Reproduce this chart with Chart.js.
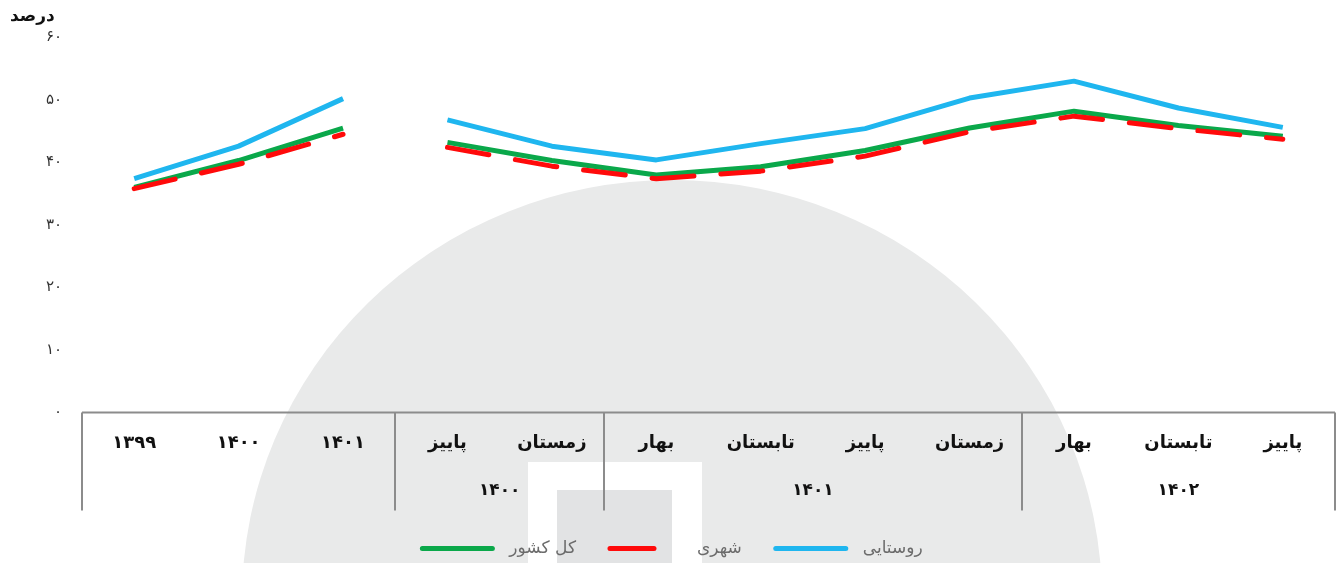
<!DOCTYPE html>
<html>
<head>
<meta charset="utf-8">
<script src="https://cdn.jsdelivr.net/npm/chart.js@4"></script>
<style>
  html, body { margin: 0; padding: 0; background: #fff; overflow: hidden; }
  #wrap { position: relative; width: 1341px; height: 563px; overflow: hidden; }
  /* watermark logo behind the chart */
  .wm { position: absolute; }
  #wm-arc { left: 242px; top: 180px; width: 860px; height: 840px; border-radius: 50%; background: #e9eaea; }
  #wm-box { left: 528px; top: 462px; width: 174px; height: 110px; background: #fff; }
  #wm-core { left: 557px; top: 490px; width: 115px; height: 80px; background: #e2e3e4; }
  canvas { position: absolute; left: 0; top: 4px; }
</style>
</head>
<body>
<div id="wrap">
  <div class="wm" id="wm-arc"></div>
  <div class="wm" id="wm-box"></div>
  <div class="wm" id="wm-core"></div>
  <canvas id="povertyChart" width="1341" height="563"></canvas>
</div>
<script>
const categories = ['۱۳۹۹', '۱۴۰۰', '۱۴۰۱', 'پاییز', 'زمستان', 'بهار', 'تابستان', 'پاییز', 'زمستان', 'بهار', 'تابستان', 'پاییز'];
const groupLabels = ['', '۱۴۰۰', '۱۴۰۱', '۱۴۰۲'];
const groupStarts = [0, 3, 5, 9];
const breakAfter = 2; // annual points are not joined to the seasonal ones

const ruralValues = [37.4, 42.6, 50.2, 46.8, 42.6, 40.4, 43.0, 45.4, 50.3, 53.0, 48.7, 45.6];
const urbanValues = [35.8, 39.7, 44.5, 42.4, 39.4, 37.4, 38.6, 41.0, 44.9, 47.4, 45.4, 43.7];
const totalValues = [36.0, 40.3, 45.5, 43.2, 40.3, 38.0, 39.3, 41.9, 45.5, 48.2, 45.9, 44.2];

const yTickLabels = ['۰', '۱۰', '۲۰', '۳۰', '۴۰', '۵۰', '۶۰'];
const seriesNames = ['روستایی', 'شهری', 'کل کشور'];

const FONT = "'DejaVu Sans', sans-serif";

const gapSegment = {
    borderColor: ctx => ctx.p0DataIndex === breakAfter ? 'rgba(0,0,0,0)' : undefined
};

// boxes under the x axis with the year of each group
const groupAxis = {
    id: 'groupAxis',
    afterDraw(chart) {
        const ctx = chart.ctx;
        const x = chart.scales.x;
        const top = chart.chartArea.bottom;
        const bottom = top + 98;
        ctx.save();
        ctx.strokeStyle = '#8c8c8c';
        ctx.lineWidth = 2;
        ctx.beginPath();
        ctx.moveTo(x.left, top);
        ctx.lineTo(x.right, top);
        const edges = groupStarts.concat([categories.length]);
        edges.forEach(e => {
            const px = Math.round(x.getPixelForValue(e - 0.5));
            ctx.moveTo(px, top);
            ctx.lineTo(px, bottom);
        });
        ctx.stroke();
        ctx.fillStyle = '#111';
        ctx.font = 'bold 17px ' + FONT;
        ctx.textAlign = 'center';
        ctx.textBaseline = 'middle';
        groupLabels.forEach((g, i) => {
            if (!g) return;
            const a = x.getPixelForValue(edges[i] - 0.5);
            const b = x.getPixelForValue(edges[i + 1] - 0.5);
            ctx.fillText(g, (a + b) / 2, top + 78);
        });
        ctx.restore();
    }
};

const ctx = document.getElementById('povertyChart').getContext('2d');
new Chart(ctx, {
    type: 'line',
    data: {
        labels: categories,
        datasets: [
            {
                label: seriesNames[0],
                data: ruralValues,
                borderColor: '#1fb6ef',
                borderWidth: 5,
                segment: gapSegment
            },
            {
                label: seriesNames[1],
                data: urbanValues,
                borderColor: '#ff0a0a',
                borderWidth: 5,
                borderDash: [42, 27],
                borderCapStyle: 'round',
                segment: gapSegment
            },
            {
                label: seriesNames[2],
                data: totalValues,
                borderColor: '#0aa84a',
                borderWidth: 5,
                segment: gapSegment
            }
        ]
    },
    options: {
        responsive: false,
        animation: false,
        layout: { padding: { left: 10, right: 6, top: 0, bottom: 0 } },
        elements: {
            point: { radius: 0, hoverRadius: 0 },
            line: { tension: 0, borderJoinStyle: 'round' }
        },
        scales: {
            x: {
                offset: true,
                grid: { display: false, drawTicks: false },
                border: { display: false },
                ticks: {
                    autoSkip: false,
                    maxRotation: 0,
                    padding: 20,
                    color: '#111',
                    font: { family: FONT, size: 18, weight: 'bold' }
                },
                afterFit: s => { s.height = 127.6; }
            },
            y: {
                min: 0,
                max: 60,
                grid: { display: false, drawTicks: false },
                border: { display: false },
                ticks: {
                    stepSize: 10,
                    padding: 20,
                    color: '#333',
                    font: { family: FONT, size: 15 },
                    callback: (v, i) => yTickLabels[i]
                },
                afterFit: s => { s.width = 72; }
            }
        },
        plugins: {
            title: {
                display: true,
                text: 'درصد',
                align: 'start',
                color: '#111',
                font: { family: FONT, size: 17, weight: 'bold' },
                padding: { top: 2, bottom: 11 }
            },
            legend: {
                position: 'bottom',
                reverse: true,
                labels: {
                    usePointStyle: true,
                    pointStyle: 'line',
                    pointStyleWidth: 70,
                    padding: 0,
                    color: '#6b6b6b',
                    font: { family: FONT, size: 17 },
                    generateLabels: chart => {
                        const items = Chart.defaults.plugins.legend.labels.generateLabels(chart);
                        return items.map(it => Object.assign(it, {
                            text: '\u2002' + it.text + (it.datasetIndex === 0 ? '' : '\u2003\u2003'),
                            lineWidth: 5,
                            lineCap: 'round',
                            lineDash: chart.data.datasets[it.datasetIndex].borderDash ? [44, 60] : [],
                            pointStyle: 'line'
                        }));
                    }
                }
            },
            tooltip: { enabled: false }
        }
    },
    plugins: [groupAxis]
});
</script>
</body>
</html>
